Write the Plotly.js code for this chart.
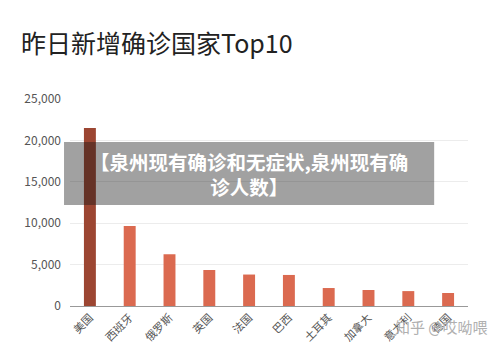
<!DOCTYPE html>
<html>
<head>
<meta charset="utf-8">
<script src="https://cdn.plot.ly/plotly-3.0.1.min.js"></script>
<style>html,body{margin:0;padding:0;background:#fff;}#chart{width:500px;height:347px;}</style>
</head>
<body>
<div id="chart"></div>
<script>
const countries = ["美国", "西班牙", "俄罗斯", "英国", "法国", "巴西", "土耳其", "加拿大", "意大利", "德国"];
const newCases = [21500, 9650, 6250, 4350, 3800, 3750, 2170, 1930, 1800, 1570];
const yTicks = [0, 5000, 10000, 15000, 20000, 25000];
const yTickText = ["0", "5,000", "10,000", "15,000", "20,000", "25,000"];

const barColors = countries.map((c, i) => i === 0 ? "#9c4632" : "#db6a50");
const FONT = "Noto Sans CJK SC, Noto Sans, sans-serif";

const trace = {
  type: "bar",
  x: countries,
  y: newCases,
  marker: {color: barColors},
  hoverinfo: "none"
};

const layout = {
  width: 500, height: 347,
  margin: {l: 70, r: 32, t: 99, b: 41},
  paper_bgcolor: "#ffffff",
  plot_bgcolor: "#ffffff",
  bargap: 0.7,
  showlegend: false,
  font: {family: FONT, color: "#555"},
  title: {
    text: "昨日新增确诊国家Top10",
    x: 0.042, xref: "container", xanchor: "left",
    y: 0.873, yref: "container", yanchor: "middle",
    font: {family: FONT, size: 25, color: "#222"}
  },
  xaxis: {
    type: "category",
    tickangle: -45,
    tickfont: {family: FONT, size: 11, color: "#555"},
    showgrid: false,
    showline: true, linecolor: "#999", linewidth: 1,
    ticks: "", zeroline: false
  },
  yaxis: {
    range: [0, 25000],
    tickvals: yTicks, ticktext: yTickText,
    tickfont: {family: FONT, size: 12, color: "#555"},
    showgrid: true, gridcolor: "#ececec", gridwidth: 1,
    zeroline: false, showline: false, ticks: "",
    ticklabelstandoff: 8
  },
  shapes: [{
    type: "rect", xref: "paper", yref: "paper",
    x0: -0.015, x1: 0.915, y0: 0.488, y1: 0.792,
    fillcolor: "rgba(20,20,20,0.4)", line: {width: 0}, layer: "above"
  }],
  annotations: [
    {
      text: "<b>【泉州现有确诊和无症状,泉州现有确</b><br><b>诊人数】</b>",
      xref: "paper", yref: "paper", x: 0.45, y: 0.64,
      xanchor: "center", yanchor: "middle", showarrow: false, align: "center",
      font: {family: FONT, size: 19.5, color: "#ffffff"}
    },
    {
      text: "知乎 @哎呦喂",
      xref: "paper", yref: "paper", x: 1.055, y: -0.1,
      xanchor: "right", yanchor: "middle", showarrow: false,
      font: {family: FONT, size: 15, color: "#b0b0b0"}
    }
  ]
};

Plotly.newPlot("chart", [trace], layout, {staticPlot: true, displayModeBar: false});
</script>
</body>
</html>
